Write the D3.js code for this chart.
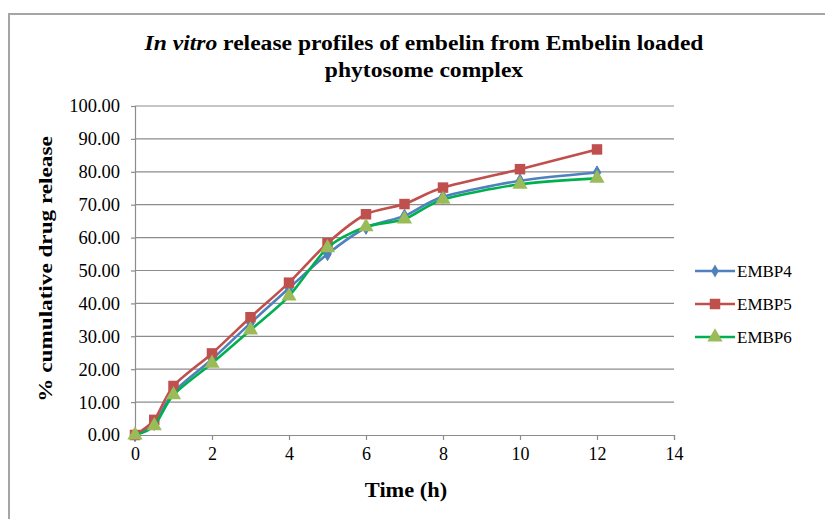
<!DOCTYPE html>
<html>
<head>
<meta charset="utf-8">
<script src="https://cdn.jsdelivr.net/npm/d3@7"></script>
<style>
  body { margin: 0; background: #fff; }
  text { font-family: "Liberation Serif", "Times New Roman", serif; fill: #000; }
</style>
</head>
<body>
<svg id="chart" width="825" height="519"></svg>
<script>
// data
const times = [0, 0.5, 1, 2, 3, 4, 5, 6, 7, 8, 10, 12]
const embp4 = [0, 3.4, 13.0, 23.0, 34.0, 44.6, 55.0, 63.0, 66.6, 72.4, 77.3, 79.8]
const embp5 = [0, 4.6, 14.9, 24.8, 35.8, 46.3, 58.3, 67.1, 70.2, 75.2, 80.8, 86.8]
const embp6 = [0, 2.8, 12.2, 21.8, 31.9, 42.2, 56.9, 63.3, 65.6, 71.6, 76.2, 78.0]
const xTicks = [0, 2, 4, 6, 8, 10, 12, 14]
const yTicks = [0, 10, 20, 30, 40, 50, 60, 70, 80, 90, 100]

const series = [
  {name: "EMBP4", values: embp4, line: "#4f81bd", fill: "#4f81bd", marker: "diamond"},
  {name: "EMBP5", values: embp5, line: "#c0504d", fill: "#c0504d", marker: "square"},
  {name: "EMBP6", values: embp6, line: "#00b050", fill: "#9bbb59", marker: "triangle"}
]

const svg = d3.select("#chart")

// outer frame (runs off the right and bottom edge)
svg.append("rect")
  .attr("x", 9).attr("y", 14)
  .attr("width", 830).attr("height", 520)
  .attr("fill", "none")
  .attr("stroke", "#a5a5a5")
  .attr("stroke-width", 2)

const x = d3.scaleLinear().domain([0, 14]).range([135, 674])
const y = d3.scaleLinear().domain([0, 100]).range([435, 106])

// gridlines
svg.append("g")
  .selectAll("line").data(yTicks.filter(d => d > 0))
  .enter().append("line")
  .attr("x1", x(0)).attr("x2", x(14))
  .attr("y1", d => y(d)).attr("y2", d => y(d))
  .attr("stroke", "#8c8c8c").attr("stroke-width", 1.2)

// y axis
const yAxis = svg.append("g")
  .attr("transform", `translate(${x(0)},0)`)
  .call(d3.axisLeft(y).tickValues(yTicks).tickFormat(d3.format(".2f")).tickSize(4).tickPadding(11))
yAxis.selectAll("line, path").attr("stroke", "#8c8c8c").attr("stroke-width", 1.2)
yAxis.selectAll("text").attr("font-size", "18.5px").attr("font-family", "Liberation Serif")

// x axis
const xAxis = svg.append("g")
  .attr("transform", `translate(0,${y(0)})`)
  .call(d3.axisBottom(x).tickValues(xTicks).tickFormat(d3.format("d")).tickSize(5).tickPadding(7))
xAxis.selectAll("line, path").attr("stroke", "#8c8c8c").attr("stroke-width", 1.2)
xAxis.selectAll("text").attr("font-size", "18px").attr("font-family", "Liberation Serif")

// lines
const line = d3.line()
  .x(d => x(d[0])).y(d => y(d[1]))
  .curve(d3.curveCardinal.tension(0.2))

const symbolFor = m => m === "square" ? d3.symbolSquare : m === "triangle" ? d3.symbolTriangle : d3.symbolDiamond
const sizeFor = m => m === "square" ? 110 : m === "triangle" ? 100 : 50

series.forEach(s => {
  const pts = times.map((t, i) => [t, s.values[i]])
  svg.append("path")
    .datum(pts)
    .attr("d", line)
    .attr("fill", "none")
    .attr("stroke", s.line)
    .attr("stroke-width", 2.6)
  svg.append("g")
    .selectAll("path").data(pts)
    .enter().append("path")
    .attr("transform", d => `translate(${x(d[0])},${y(d[1])})`)
    .attr("d", d3.symbol().type(symbolFor(s.marker)).size(sizeFor(s.marker)))
    .attr("fill", s.fill)
    .attr("stroke", s.marker === "diamond" ? s.line : "none")
})

// legend
const legend = svg.append("g").selectAll("g").data(series)
  .enter().append("g")
  .attr("transform", (d, i) => `translate(695,${271 + i * 33})`)
legend.append("line")
  .attr("x1", 0).attr("x2", 40)
  .attr("stroke", d => d.line).attr("stroke-width", 2.6)
legend.append("path")
  .attr("transform", "translate(20,0)")
  .attr("d", d => d3.symbol().type(symbolFor(d.marker)).size(sizeFor(d.marker))())
  .attr("fill", d => d.fill)
legend.append("text")
  .attr("x", 42).attr("y", 6)
  .attr("font-size", "17px")
  .text(d => d.name)

// titles (the source font is a bit wider than Liberation Serif, so stretch)
const title = svg.append("text")
  .attr("transform", "translate(424,50) scale(1.15,1)")
  .attr("text-anchor", "middle")
  .attr("font-size", "20.5px")
  .attr("font-weight", "bold")
title.append("tspan").attr("font-style", "italic").text("In vitro")
title.append("tspan").text(" release profiles of embelin from Embelin loaded")
svg.append("text")
  .attr("transform", "translate(424,77) scale(1.15,1)")
  .attr("text-anchor", "middle")
  .attr("font-size", "20.5px")
  .attr("font-weight", "bold")
  .text("phytosome complex")

svg.append("text")
  .attr("transform", "translate(52,269) rotate(-90) scale(1.22,1)")
  .attr("text-anchor", "middle")
  .attr("font-size", "19px")
  .attr("font-weight", "bold")
  .text("% cumulative drug release")

svg.append("text")
  .attr("transform", "translate(406,497) scale(1.12,1)")
  .attr("text-anchor", "middle")
  .attr("font-size", "20px")
  .attr("font-weight", "bold")
  .text("Time (h)")
</script>
</body>
</html>
